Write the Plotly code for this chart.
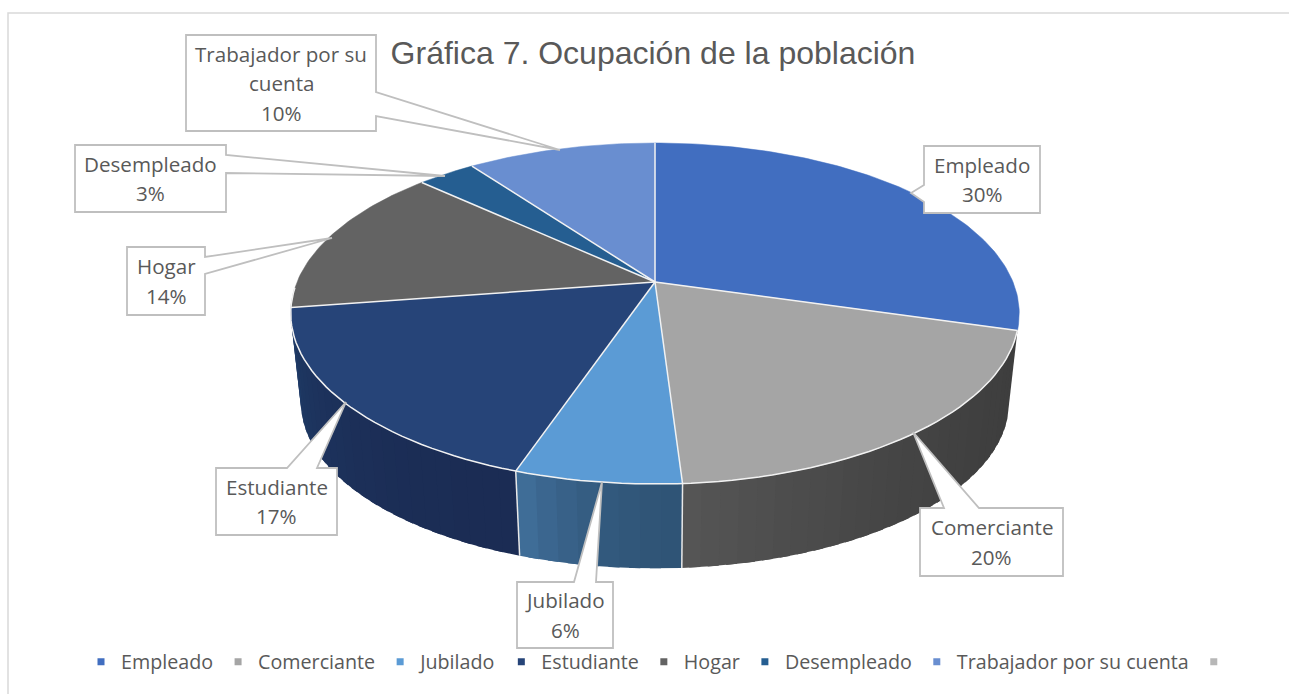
import numpy as np
import plotly.graph_objects as go

# ---------- data ----------
categories = ["Empleado", "Comerciante", "Jubilado", "Estudiante", "Hogar", "Desempleado", "Trabajador por su cuenta", " "]
values = [29.5, 19.5, 6.2, 17.4, 14.3, 3.1, 10.0, 0.0]
percent_labels = ["30%", "20%", "6%", "17%", "14%", "3%", "10%"]
label_lines = [["Empleado"], ["Comerciante"], ["Jubilado"], ["Estudiante"], ["Hogar"], ["Desempleado"], ["Trabajador por su", "cuenta"]]
top_colors = ["#416EC0", "#A5A5A5", "#5B9BD5", "#264478", "#636363", "#255E91", "#698ED0", "#B7B7B7"]
# wall shading: colour at the start and the end of each slice's visible wall
wall_colors = {1: ((62, 62, 62), (86, 86, 86)), 2: ((47, 84, 118), (65, 112, 156)), 3: ((27, 44, 84), (31, 60, 104))}

# ---------- projection of the tilted disc ----------
CX, CY, RX, RY, K = 655.0, 282.0, 358.0, 164.7, 0.1848
DROP, BOTTOM_SCALE = 90.0, 0.972
TEXT, EDGE = "#595959", "#BFBFBF"
FONT = "Open Sans"
SEAM = "#F2F2F2"


def project(deg, r=1.0, scale=1.0, dy=0.0):
    a = np.radians(deg)
    X, Y = r * np.sin(a), -r * np.cos(a)
    w = 1 - K * Y
    return CX + scale * RX * X / w, CY + dy + scale * RY * Y / w


shares = np.array(values) / sum(values) * 360
ends = np.cumsum(shares)
starts = ends - shares

fig = go.Figure()

# side walls, in narrow shaded strips that overlap so no seams show
for i, (c0, c1) in wall_colors.items():
    a0, a1 = starts[i], ends[i]
    if i == 3:
        a1 = min(a1, 266)
    n = max(4, int((a1 - a0) / 2.5))
    edges = np.linspace(a0, a1, n + 1)
    for j in range(n):
        t = ((j + 0.5) / n) ** 2
        col = "rgb(%d,%d,%d)" % tuple(round(c0[k] + (c1[k] - c0[k]) * t) for k in range(3))
        arc = np.linspace(edges[j], a1 if j == n - 1 else edges[j + 1] + 1.5, 5)
        tx, ty = project(arc)
        bx, by = project(arc[::-1], scale=BOTTOM_SCALE, dy=DROP)
        fig.add_trace(go.Scatter(x=np.r_[tx, bx], y=np.r_[ty, by], mode="lines", fill="toself",
                                 fillcolor=col, line=dict(color=col, width=0),
                                 showlegend=False, hoverinfo="skip"))

# white seams between walls
for a in (ends[1], ends[2]):
    tx, ty = project(a)
    bx, by = project(a, scale=BOTTOM_SCALE, dy=DROP)
    fig.add_trace(go.Scatter(x=[tx, bx], y=[ty, by], mode="lines", line=dict(color="#E8E8E8", width=1.5),
                             showlegend=False, hoverinfo="skip"))

# top face
for i in range(7):
    arc = np.linspace(starts[i], ends[i], max(3, int(shares[i])))
    ax, ay = project(arc)
    fig.add_trace(go.Scatter(x=np.r_[CX, ax, CX], y=np.r_[CY, ay, CY], mode="lines", fill="toself",
                             fillcolor=top_colors[i], line=dict(color=top_colors[i], width=0.5),
                             name=categories[i], showlegend=False, hoverinfo="name"))

# spokes and the lit front rim
for a in ends[:7]:
    sx, sy = project(a)
    fig.add_trace(go.Scatter(x=[CX, sx], y=[CY, sy], mode="lines", line=dict(color=SEAM, width=1.5),
                             showlegend=False, hoverinfo="skip"))
rim = np.linspace(ends[0], 268, 90)
rx, ry = project(rim)
fig.add_trace(go.Scatter(x=rx, y=ry, mode="lines", line=dict(color=SEAM, width=1.5),
                         showlegend=False, hoverinfo="skip"))

# legend entries
for name, col in zip(categories, top_colors):
    fig.add_trace(go.Scatter(x=[None], y=[None], mode="markers", name=name,
                             marker=dict(symbol="square", size=7, color=col)))

# ---------- callouts: box (x0, y0, x1, y1), wedge base, wedge tip ----------
boxes = [(924, 146, 1040, 213), (920, 508, 1063, 576), (517, 582, 613, 648), (216, 468, 337, 535),
         (127, 247, 205, 315), (75, 145, 226, 212), (186, 35, 376, 131)]
wedges = [("l", 185, 202, 911, 193), ("t", 944, 979, 913, 432), ("t", 574, 596, 602, 482), ("t", 287, 317, 346, 402),
          ("r", 257, 274, 332, 238), ("r", 155, 173, 445, 176), ("r", 92, 116, 560, 150)]
for (x0, y0, x1, y1), (side, p, q, tx, ty), lines, pct in zip(boxes, wedges, label_lines, percent_labels):
    if side == "l":
        pts = [(x0, y0), (x1, y0), (x1, y1), (x0, y1), (x0, q), (tx, ty), (x0, p)]
    elif side == "r":
        pts = [(x0, y0), (x1, y0), (x1, p), (tx, ty), (x1, q), (x1, y1), (x0, y1)]
    else:
        pts = [(x0, y0), (p, y0), (tx, ty), (q, y0), (x1, y0), (x1, y1), (x0, y1)]
    fig.add_shape(type="path", path="M" + " L".join(f"{a},{b}" for a, b in pts) + " Z",
                  xref="x", yref="y", fillcolor="white", line=dict(color=EDGE, width=1.8), layer="above")
    rows = lines + [pct]
    mid = (y0 + y1) / 2
    for k, row in enumerate(rows):
        fig.add_annotation(x=(x0 + x1) / 2, y=mid + (k - (len(rows) - 1) / 2) * 29.5, text=row, showarrow=False,
                           xref="x", yref="y", xanchor="center", yanchor="middle",
                           font=dict(family=FONT, size=20.6, color=TEXT))

# chart frame
fig.add_shape(type="path", path="M8,700 L8,13 L1300,13", xref="x", yref="y",
              line=dict(color="#D9D9D9", width=1.5), layer="below")

fig.update_layout(
    width=1289, height=694, margin=dict(l=0, r=0, t=0, b=0),
    paper_bgcolor="white", plot_bgcolor="white",
    xaxis=dict(range=[0, 1289], visible=False, fixedrange=True),
    yaxis=dict(range=[694, 0], visible=False, fixedrange=True),
    title=dict(text="Gráfica 7. Ocupación de la población", x=653 / 1289, y=1 - 53 / 694,
               xanchor="center", yanchor="middle", font=dict(family="Liberation Sans", size=32, color=TEXT)),
    legend=dict(orientation="h", x=662.5 / 1289, xanchor="center", y=1 - 662 / 694, yanchor="middle",
                font=dict(family=FONT, size=19.7, color=TEXT), itemwidth=30, bgcolor="rgba(0,0,0,0)"),
)

fig.write_html("out.html", config={"displayModeBar": False},
               post_script="document.body.style.margin='0';document.body.style.overflow='hidden';")
